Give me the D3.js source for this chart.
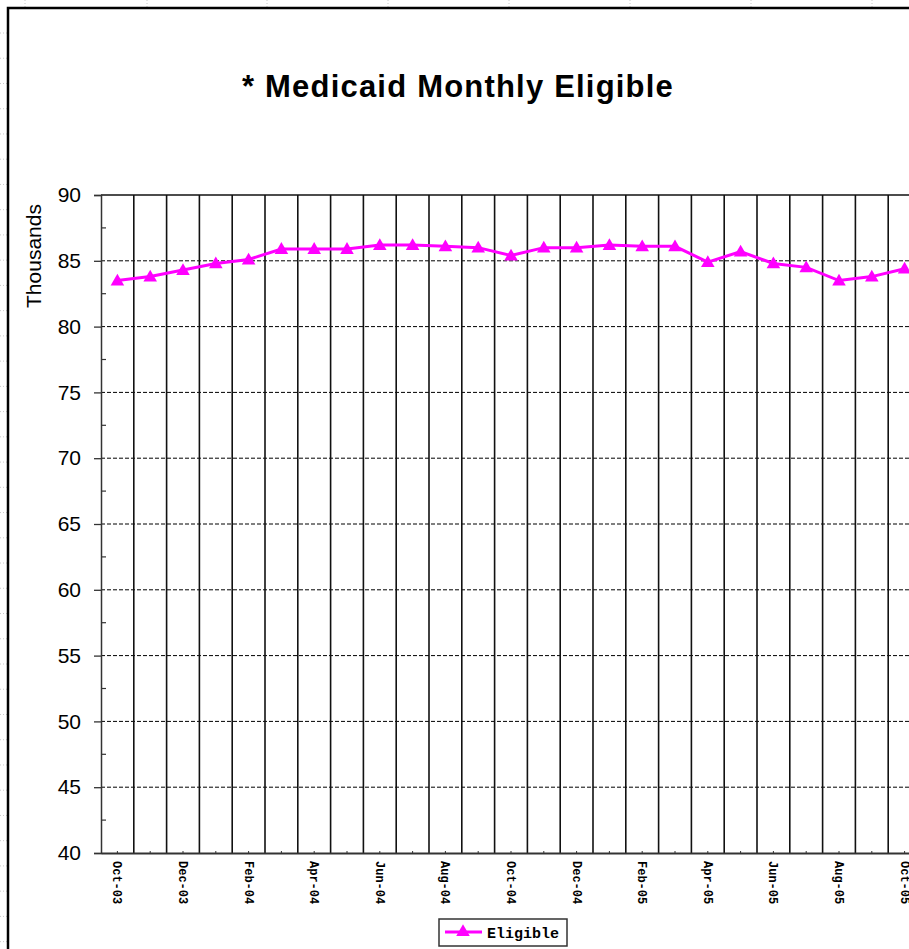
<!DOCTYPE html>
<html>
<head>
<meta charset="utf-8">
<script src="https://cdn.jsdelivr.net/npm/d3@7"></script>
<style>
  html, body { margin: 0; padding: 0; background: #fff; }
  svg { display: block; }
</style>
</head>
<body>
<div id="chart"></div>
<script>
// Chart data
const months = [
  "Oct-03", "Nov-03", "Dec-03", "Jan-04", "Feb-04", "Mar-04", "Apr-04",
  "May-04", "Jun-04", "Jul-04", "Aug-04", "Sep-04", "Oct-04", "Nov-04",
  "Dec-04", "Jan-05", "Feb-05", "Mar-05", "Apr-05", "May-05", "Jun-05",
  "Jul-05", "Aug-05", "Sep-05", "Oct-05"
];
const eligible = [
  83.5, 83.8, 84.3, 84.8, 85.1, 85.9, 85.9, 85.9, 86.2, 86.2, 86.1, 86.0,
  85.4, 86.0, 86.0, 86.2, 86.1, 86.1, 84.9, 85.7, 84.8, 84.5, 83.5, 83.8, 84.4
];
const yTicks = [40, 45, 50, 55, 60, 65, 70, 75, 80, 85, 90];
const yMinorTicks = [42.5, 47.5, 52.5, 57.5, 62.5, 67.5, 72.5, 77.5, 82.5, 87.5];
const seriesName = "Eligible";
const title = "* Medicaid Monthly Eligible";
const yTitle = "Thousands";

(() => {
  const W = 909, H = 949;
  const plot = { left: 101, top: 195, bottom: 853 };
  const band = 32.8;
  const plotRight = plot.left + band * months.length;
  const magenta = "#ff00ff";

  const svg = d3.select("#chart").append("svg")
    .attr("width", W).attr("height", H);

  // faint spreadsheet grid showing outside the chart frame
  const sheet = svg.append("g").attr("stroke", "#c8c8c8").attr("stroke-dasharray", "1,2");
  [25, 147, 267, 388, 509, 630, 751, 872].forEach((cx) => {
    sheet.append("line").attr("x1", cx).attr("x2", cx).attr("y1", 0).attr("y2", 7);
  });
  for (let ry = 33; ry < H; ry += 25.24) {
    sheet.append("line").attr("x1", 0).attr("x2", 7).attr("y1", ry).attr("y2", ry);
  }

  // chart frame (runs off the right and bottom)
  svg.append("rect")
    .attr("x", 8).attr("y", 8)
    .attr("width", 1000).attr("height", 1000)
    .attr("fill", "#fff")
    .attr("stroke", "#000").attr("stroke-width", 2.5);

  // scales
  const x = d3.scaleBand().domain(months).range([plot.left, plotRight]).padding(0);
  const y = d3.scaleLinear().domain([40, 90]).range([plot.bottom, plot.top]);

  // title
  svg.append("text")
    .attr("x", 458).attr("y", 97)
    .attr("text-anchor", "middle")
    .style("font-family", "'Liberation Sans', Arial, sans-serif")
    .style("font-weight", "bold")
    .style("font-size", "31px")
    .style("letter-spacing", "1.2px")
    .text(title);

  // horizontal dashed gridlines
  svg.append("g")
    .selectAll("line")
    .data(yTicks.filter((d) => d > 40 && d < 90))
    .join("line")
    .attr("x1", plot.left).attr("x2", plotRight)
    .attr("y1", (d) => y(d)).attr("y2", (d) => y(d))
    .attr("stroke", "#000").attr("stroke-width", 1)
    .attr("stroke-dasharray", "4,2");

  // vertical solid lines at category boundaries
  svg.append("g")
    .selectAll("line")
    .data(months.slice(1))
    .join("line")
    .attr("x1", (d) => x(d)).attr("x2", (d) => x(d))
    .attr("y1", plot.top).attr("y2", plot.bottom)
    .attr("stroke", "#111").attr("stroke-width", 1.6);

  // plot top border
  svg.append("line")
    .attr("x1", plot.left).attr("x2", plotRight)
    .attr("y1", plot.top).attr("y2", plot.top)
    .attr("stroke", "#111").attr("stroke-width", 1.6);

  // y axis
  const yAxis = svg.append("g")
    .attr("transform", `translate(${plot.left},0)`)
    .call(d3.axisLeft(y).tickValues(yTicks).tickSize(7).tickPadding(13));
  yAxis.select(".domain").attr("stroke", "#333").attr("stroke-width", 1.5);
  yAxis.selectAll(".tick line").attr("stroke", "#333").attr("stroke-width", 1.3);
  yAxis.selectAll(".tick text")
    .style("font-family", "'Liberation Sans', Arial, sans-serif")
    .style("font-size", "21px")
    .attr("fill", "#000");

  // minor ticks (inside)
  svg.append("g")
    .selectAll("line")
    .data(yMinorTicks)
    .join("line")
    .attr("x1", plot.left).attr("x2", plot.left + 5)
    .attr("y1", (d) => y(d)).attr("y2", (d) => y(d))
    .attr("stroke", "#333").attr("stroke-width", 1.2);

  // y title
  svg.append("text")
    .attr("transform", `translate(41,256) rotate(-90)`)
    .attr("text-anchor", "middle")
    .style("font-family", "'Liberation Sans', Arial, sans-serif")
    .style("font-size", "21px")
    .text(yTitle);

  // x axis
  const xAxis = svg.append("g")
    .attr("transform", `translate(0,${plot.bottom})`)
    .call(
      d3.axisBottom(x)
        .tickValues(months.filter((_, i) => i % 2 === 0))
        .tickSize(0)
        .tickPadding(0)
    );
  xAxis.select(".domain").attr("stroke", "#333").attr("stroke-width", 2);
  xAxis.selectAll(".tick text")
    .attr("transform", "rotate(90)")
    .attr("x", 8).attr("y", 0).attr("dy", "0.33em")
    .attr("text-anchor", "start")
    .style("font-family", "'Liberation Mono', 'Courier New', monospace")
    .style("font-weight", "bold")
    .style("font-size", "12px")
    .attr("fill", "#000");

  // small tick marks at category centres
  svg.append("g")
    .selectAll("line")
    .data(months)
    .join("line")
    .attr("x1", (d) => x(d) + x.bandwidth() / 2)
    .attr("x2", (d) => x(d) + x.bandwidth() / 2)
    .attr("y1", plot.bottom - 2).attr("y2", plot.bottom)
    .attr("stroke", "#333").attr("stroke-width", 1);

  // line series
  const cx = (i) => x(months[i]) + x.bandwidth() / 2;
  const line = d3.line()
    .x((d, i) => cx(i))
    .y((d) => y(d));

  svg.append("path")
    .datum(eligible)
    .attr("d", line)
    .attr("fill", "none")
    .attr("stroke", magenta)
    .attr("stroke-width", 3);

  const tri = d3.symbol().type(d3.symbolTriangle).size(80);
  svg.append("g")
    .selectAll("path")
    .data(eligible)
    .join("path")
    .attr("d", tri)
    .attr("transform", (d, i) => `translate(${cx(i)},${y(d) + 1})`)
    .attr("fill", magenta);

  // legend
  const legend = svg.append("g");
  legend.append("rect")
    .attr("x", 439).attr("y", 919)
    .attr("width", 128).attr("height", 27)
    .attr("fill", "#fff")
    .attr("stroke", "#333").attr("stroke-width", 1.5);
  legend.append("line")
    .attr("x1", 445).attr("x2", 482)
    .attr("y1", 932).attr("y2", 932)
    .attr("stroke", magenta).attr("stroke-width", 3);
  legend.append("path")
    .attr("d", tri)
    .attr("transform", "translate(463,932)")
    .attr("fill", magenta);
  legend.append("text")
    .attr("x", 487).attr("y", 938)
    .style("font-family", "'Liberation Mono', 'Courier New', monospace")
    .style("font-weight", "bold")
    .style("font-size", "15px")
    .text(seriesName);
})();
</script>
</body>
</html>
